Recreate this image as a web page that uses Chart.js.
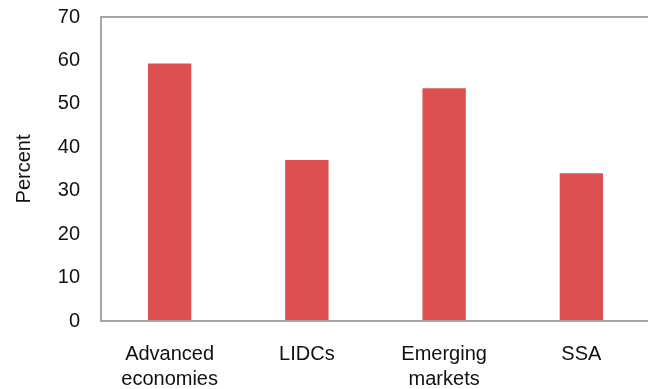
<!DOCTYPE html>
<html lang="en">
<head>
  <meta charset="UTF-8">
  <title>Percent by group</title>
  <script src="https://cdn.jsdelivr.net/npm/chart.js"></script>
  <style>
    html, body { margin: 0; padding: 0; overflow: hidden; background: #fff; }
    canvas { display: block; }
  </style>
</head>
<body>
  <canvas id="barChart" width="652" height="389"></canvas>
  <script>
    // data
    const categories = [['Advanced', 'economies'], 'LIDCs', ['Emerging', 'markets'], 'SSA'];
    const percentValues = [59.3, 37.1, 53.6, 34.0];
    const yTicks = [0, 10, 20, 30, 40, 50, 60, 70];

    // grey frame round the plot area
    const frame = {
      id: 'frame',
      afterDraw(chart) {
        const a = chart.chartArea;
        const ctx = chart.ctx;
        ctx.save();
        ctx.strokeStyle = '#a6a6a6';
        ctx.lineWidth = 2;
        ctx.strokeRect(a.left, a.top, a.right - a.left, a.bottom - a.top);
        ctx.restore();
      }
    };

    Chart.defaults.font.family = '"Liberation Sans", Arial, sans-serif';
    Chart.defaults.font.size = 20;
    Chart.defaults.color = '#111';

    new Chart(document.getElementById('barChart').getContext('2d'), {
      type: 'bar',
      data: {
        labels: categories,
        datasets: [{
          data: percentValues,
          backgroundColor: 'rgb(220, 80, 79)',
          borderWidth: 0,
          categoryPercentage: 1,
          barPercentage: 0.316
        }]
      },
      options: {
        responsive: false,
        animation: false,
        layout: { padding: { top: 17, left: 0, right: 2, bottom: 0 } },
        plugins: {
          legend: { display: false },
          tooltip: { enabled: false }
        },
        scales: {
          x: {
            grid: { display: false, drawTicks: false },
            border: { display: false },
            ticks: { font: { size: 20, lineHeight: 1.25 }, padding: 21, maxRotation: 0, autoSkip: false },
            afterFit: s => { s.height = 68; s.paddingTop = 0; s.paddingBottom = 0; }
          },
          y: {
            min: 0,
            max: 70,
            grid: { display: false, drawTicks: false },
            border: { display: false },
            afterBuildTicks: s => { s.ticks = yTicks.map(v => ({ value: v })); },
            ticks: { font: { size: 20 }, padding: 21 },
            title: { display: true, text: 'Percent', font: { size: 20 }, padding: { top: 12, bottom: 0 } },
            afterFit: s => { s.width = 101; s.paddingTop = 0; s.paddingBottom = 0; }
          }
        }
      },
      plugins: [frame]
    });
  </script>
</body>
</html>
